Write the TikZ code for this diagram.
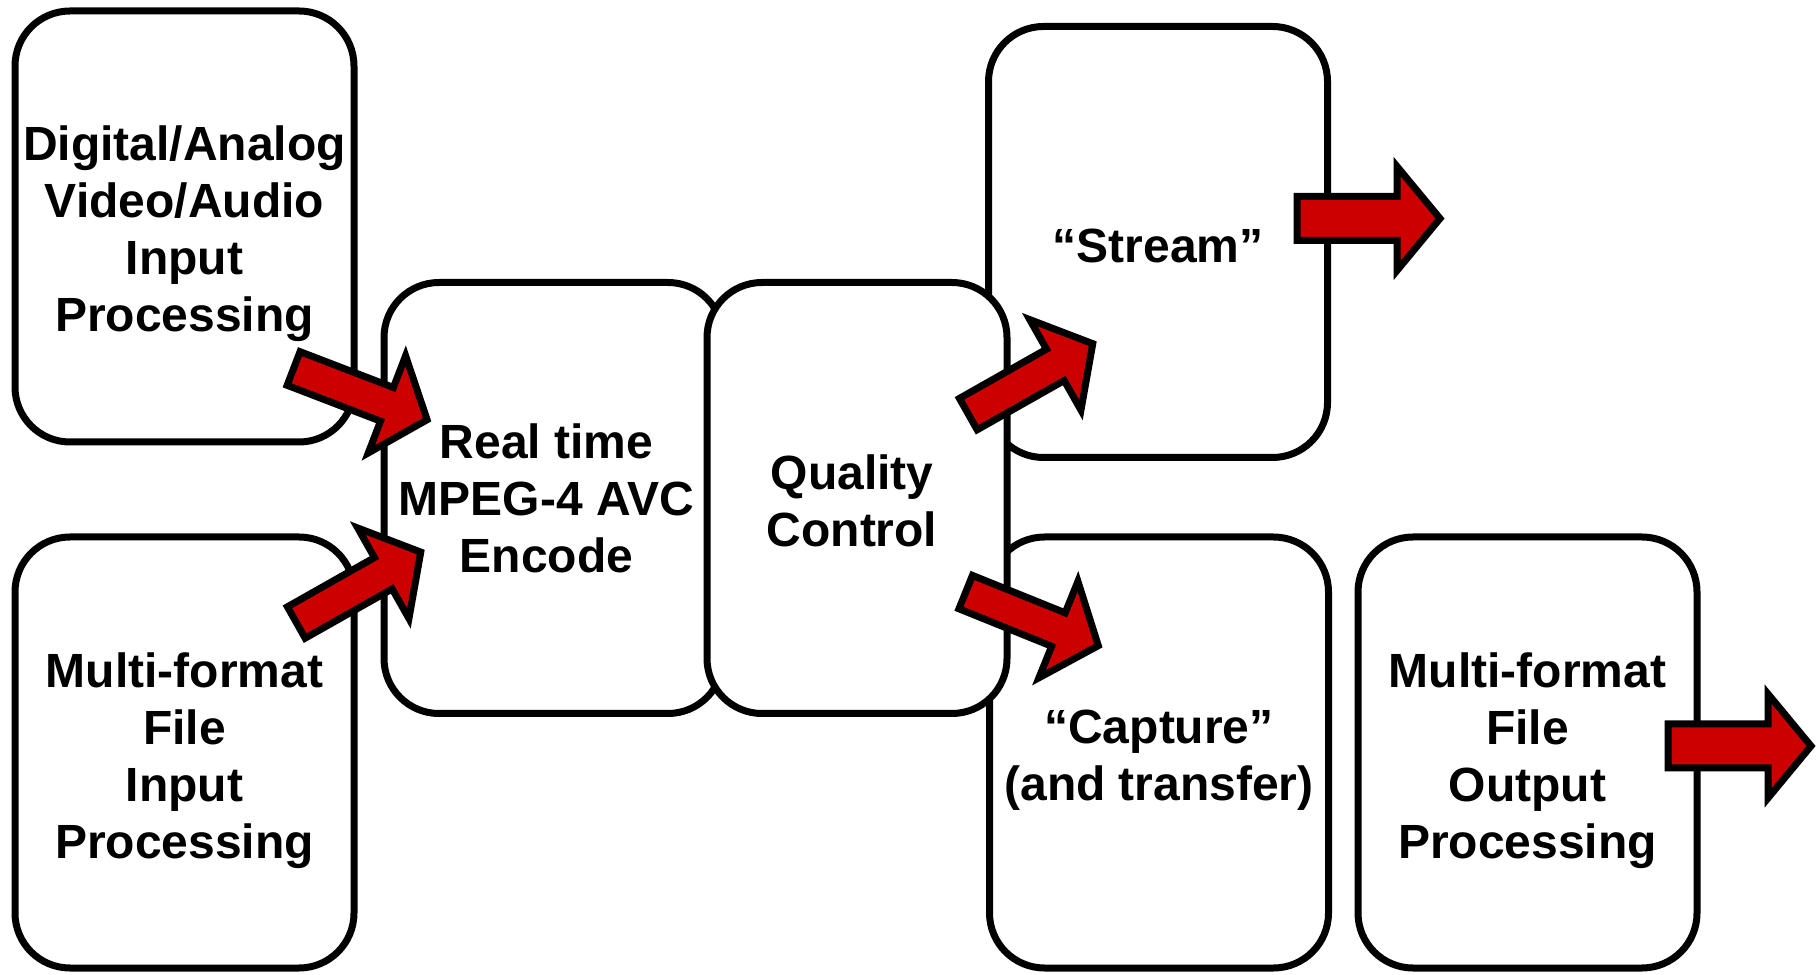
\documentclass[tikz,border=0pt]{standalone}
\usepackage{fontspec}
\setmainfont{Liberation Sans}
\usepackage{xcolor}
\usepackage{tikz}
\definecolor{arrowred}{RGB}{204,0,0}
% fat block arrow: #1 tail coordinate, #2 angle, #3 half shaft width
\newcommand{\fatarrow}[3]{%
\begin{scope}[shift={(#1)}, rotate=#2]
\draw[flow] (0,-#3) -- (100,-#3) -- (100,-52) -- (143,0) -- (100,52) -- (100,#3) -- (0,#3) -- cycle;
\end{scope}}

\begin{document}
\begin{tikzpicture}[x=0.5pt, y=0.5pt,
  stage/.style={draw, fill=white, line width=3.5pt, rounded corners=27.5pt,
    minimum width=169.5pt, minimum height=215.5pt, inner sep=0pt},
  caption/.style={inner sep=0pt, align=center,
    font=\fontsize{24}{28.5}\selectfont\bfseries},
  flow/.style={draw=black, fill=arrowred, line width=3.5pt}]
\useasboundingbox (0,0) rectangle (1818,974);

% boxes
\node[stage] (analog) at (184.5,747.5) {};
\node[stage] (filein) at (184.5,221.5) {};
\node[stage] (encode) at (553.5,476) {};
\node[stage] (stream) at (1158,732) {};
\node[stage] (capture) at (1159,221.5) {};
\node[stage] (fileout) at (1527.5,221.5) {};
\node[stage, minimum width=150pt] (quality) at (857,476) {};

% texts
\node[caption] (analog-text) at ([shift={(0,-7)}]analog.center) {Digital/Analog\\Video/Audio\\Input\\Processing};
\node[caption] (filein-text) at ([shift={(0,-8)}]filein.center) {Multi-format\\File\\Input\\Processing};
\node[caption] (encode-text) at ([shift={(-7,0)}]encode.center) {Real time\\MPEG-4 AVC\\Encode};
\node[caption] (quality-text) at ([shift={(-5,-3)}]quality.center) {Quality\\Control};
\node[caption] (stream-text) at ([shift={(0,-4)}]stream.center) {“Stream”};
\node[caption] (capture-text) at ([shift={(0,-8)}]capture.center) {“Capture”\\(and transfer)};
\node[caption] (fileout-text) at ([shift={(0,-8)}]fileout.center) {Multi-format\\File\\Output\\Processing};

\coordinate (analog-in) at (293.6,605.5);
\coordinate (file-in) at (296.3,351.5);
\coordinate (to-stream) at (968.3,559.9);
\coordinate (to-capture) at (965.7,381.9);
\coordinate (stream-out) at (1297,755.5);
\coordinate (file-out) at (1668,228);

\fatarrow{analog-in}{-21}{18}
\fatarrow{file-in}{29.5}{18}
\fatarrow{to-stream}{29.5}{18}
\fatarrow{to-capture}{-22}{18}
\fatarrow{stream-out}{0}{22}
\fatarrow{file-out}{0}{22}

\end{tikzpicture}
\end{document}
